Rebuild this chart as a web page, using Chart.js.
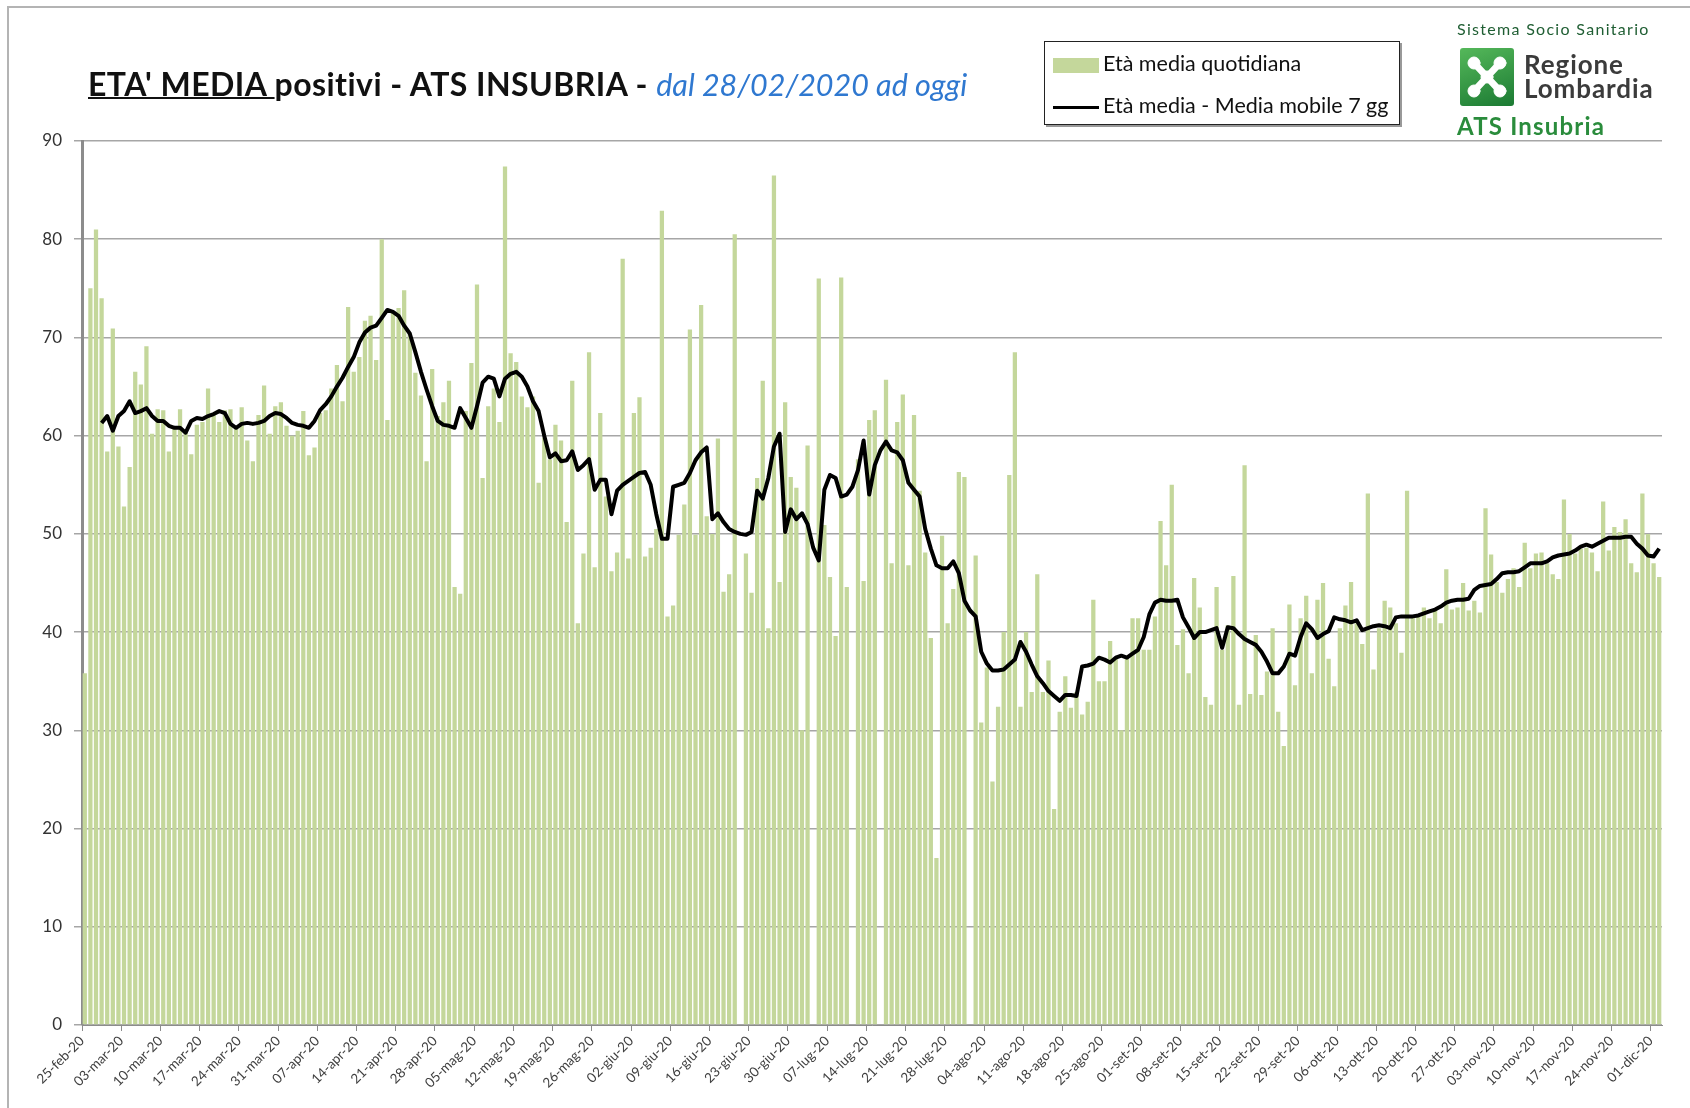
<!DOCTYPE html>
<html>
<head>
<meta charset="utf-8">
<script src="https://cdn.jsdelivr.net/npm/chart.js@4"></script>
<style>
  body { margin: 0; background: #fff; font-family: Lato, "Open Sans", sans-serif; }
  #page { position: relative; width: 1690px; height: 1108px; overflow: hidden; }
  #frame { position: absolute; left: 7px; top: 6px; width: 1700px; height: 1120px;
    border-top: 2px solid #b4b4b4; border-left: 2px solid #b4b4b4; }
  #chartBox { position: absolute; left: 0; top: 0; width: 1690px; height: 1108px; }
  #title { position: absolute; left: 88px; top: 65px; font-size: 32px; line-height: 38px; font-weight: bold; color: #111; white-space: nowrap; letter-spacing: 0.45px; }
  #title u { text-decoration-thickness: 2px; }
  #title .sub { font-weight: normal; font-style: italic; color: #2f78d0; font-size: 30.5px; letter-spacing: 0; }
  #legend { position: absolute; left: 1044px; top: 41px; width: 354px; height: 82px;
    border: 1.5px solid #222; box-shadow: 2px 2px 0 #999; background: #fff; }
  .lg { position: absolute; left: 8px; font-size: 21.5px; line-height: 26px; color: #111; white-space: nowrap; }
  .lg .sw { display: inline-block; vertical-align: middle; margin-right: 4px; }
  #logo .sss { position: absolute; left: 1457px; top: 19px; font-size: 16px; color: #1f5e33; letter-spacing: 1.3px; white-space: nowrap; }
  #logo .mark { position: absolute; left: 1460px; top: 48px; width: 54px; height: 58px; border-radius: 3px;
    background: linear-gradient(160deg, #55b85a, #1b7a33); }
  #logo .rl { position: absolute; left: 1524px; top: 52px; font-size: 26px; line-height: 24px; font-weight: bold; color: #3b3b3b; letter-spacing: 0.9px; }
  #logo .ats { position: absolute; left: 1457px; top: 111px; font-size: 24px; font-weight: bold; color: #2a8c3c; white-space: nowrap; letter-spacing: 1.2px; }
</style>
</head>
<body>
<div id="page">
  <div id="frame"></div>
  <div id="chartBox"><canvas id="ageChart"></canvas></div>
  <div id="title"><u>ETA' MEDIA </u>positivi - ATS INSUBRIA - <span class="sub">dal 28/02/2020 ad oggi</span></div>
  <div id="legend"></div>
  <div id="logo">
    <div class="sss">Sistema Socio Sanitario</div>
    <div class="mark">
      <svg width="54" height="58" viewBox="0 0 54 58">
        <g fill="#fff" stroke="#fff" stroke-linecap="round">
          <line x1="15" y1="16" x2="39" y2="42" stroke-width="7"/>
          <line x1="39" y1="16" x2="15" y2="42" stroke-width="7"/>
          <circle cx="14" cy="15" r="6"/>
          <circle cx="40" cy="15" r="6"/>
          <circle cx="14" cy="43" r="6"/>
          <circle cx="40" cy="43" r="6"/>
          <circle cx="27" cy="29" r="6"/>
        </g>
      </svg>
    </div>
    <div class="rl">Regione<br>Lombardia</div>
    <div class="ats">ATS Insubria</div>
  </div>
</div>
<script>
// daily bars start 25-feb-2020, one per day (282 days)
const startDate = new Date(2020, 1, 25);
const monthNames = ["gen", "feb", "mar", "apr", "mag", "giu", "lug", "ago", "set", "ott", "nov", "dic"];

// Età media quotidiana (one row = one week)
const dailyAge = [
  35.8, 75.0, 81.0, 74.0, 58.4, 70.9, 58.9,
  52.8, 56.8, 66.5, 65.2, 69.1, 60.2, 62.7,
  62.6, 58.4, 60.8, 62.7, 60.5, 58.1, 61.1,
  61.4, 64.8, 62.2, 61.4, 62.6, 62.7, 60.8,
  62.9, 59.5, 57.4, 62.1, 65.1, 60.2, 63.0,
  63.4, 61.0, 60.0, 60.5, 62.5, 58.0, 58.8,
  62.3, 62.6, 64.8, 67.2, 63.5, 73.1, 66.5,
  68.0, 71.7, 72.2, 67.7, 80.0, 61.6, 72.5,
  73.0, 74.8, 70.4, 66.4, 64.1, 57.4, 66.8,
  62.0, 63.4, 65.6, 44.6, 43.9, 62.5, 67.4,
  75.4, 55.7, 63.0, 64.8, 61.4, 87.4, 68.4,
  67.5, 64.0, 62.9, 64.0, 55.2, 59.8, 57.6,
  61.1, 59.5, 51.2, 65.6, 40.9, 48.0, 68.5,
  46.6, 62.3, 53.8, 46.2, 48.1, 78.0, 47.5,
  62.3, 63.9, 47.7, 48.6, 50.5, 82.9, 41.6,
  42.7, 49.9, 53.0, 70.8, 49.9, 73.3, 51.8,
  50.0, 59.7, 44.1, 45.9, 80.5, null, 48.0,
  44.0, 55.7, 65.6, 40.4, 86.5, 45.1, 63.4,
  55.8, 54.7, 30.0, 59.0, null, 76.0, 50.9,
  45.6, 39.6, 76.1, 44.6, null, 57.6, 45.2,
  61.6, 62.6, null, 65.7, 47.0, 61.4, 64.2,
  46.8, 62.1, 54.4, 48.1, 39.4, 17.0, 49.8,
  40.9, 44.4, 56.3, 55.8, null, 47.8, 30.8,
  36.4, 24.8, 32.4, 40.0, 56.0, 68.5, 32.4,
  40.0, 33.9, 45.9, 33.9, 37.1, 22.0, 31.9,
  35.5, 32.3, 33.9, 31.6, 32.9, 43.3, 35.0,
  35.0, 39.1, 37.4, 30.0, 37.4, 41.4, 41.4,
  38.2, 38.2, 41.6, 51.3, 46.8, 55.0, 38.7,
  40.3, 35.8, 45.5, 42.5, 33.4, 32.6, 44.6,
  38.2, 40.7, 45.7, 32.6, 57.0, 33.7, 39.7,
  33.6, 36.0, 40.4, 31.9, 28.4, 42.8, 34.6,
  41.4, 43.7, 35.8, 43.3, 45.0, 37.3, 34.5,
  40.4, 42.7, 45.1, 40.9, 38.8, 54.1, 36.2,
  40.4, 43.2, 42.5, 40.9, 37.9, 54.4, 41.6,
  41.6, 42.5, 41.4, 42.3, 40.9, 46.4, 42.3,
  42.5, 45.0, 42.2, 43.2, 42.0, 52.6, 47.9,
  45.1, 44.0, 45.4, 46.5, 44.6, 49.1, 46.5,
  48.0, 48.1, 47.0, 45.9, 45.4, 53.5, 50.0,
  48.0, 48.5, 48.6, 48.1, 46.2, 53.3, 48.3,
  50.7, 50.2, 51.5, 47.0, 46.1, 54.1, 50.0,
  47.0, 45.6
];

// Età media - Media mobile 7 gg
const movingAvg = [
  null, null, null, 61.3, 62.0, 60.5, 62.0,
  62.5, 63.5, 62.3, 62.5, 62.8, 62.0, 61.5,
  61.5, 61.0, 60.8, 60.8, 60.3, 61.5, 61.8,
  61.7, 62.0, 62.2, 62.5, 62.3, 61.2, 60.8,
  61.2, 61.3, 61.2, 61.3, 61.5, 62.0, 62.3,
  62.2, 61.8, 61.3, 61.1, 61.0, 60.8, 61.5,
  62.6, 63.2, 64.0, 65.0, 65.9, 67.0, 68.0,
  69.5, 70.5, 71.0, 71.2, 72.0, 72.8, 72.6,
  72.2, 71.2, 70.4, 68.5, 66.5, 64.7, 63.0,
  61.5, 61.1, 61.0, 60.8, 62.8, 61.8, 60.8,
  63.0, 65.4, 66.0, 65.8, 64.0, 65.8, 66.3,
  66.5, 66.0, 65.0, 63.5, 62.5, 60.0, 57.8,
  58.2, 57.4, 57.5, 58.4, 56.5, 57.0, 57.6,
  54.5, 55.5, 55.5, 52.0, 54.4, 55.0, 55.4,
  55.8, 56.2, 56.3, 55.0, 52.0, 49.5, 49.5,
  54.8, 55.0, 55.2, 56.2, 57.5, 58.3, 58.8,
  51.5, 52.1, 51.2, 50.5, 50.2, 50.0, 49.9,
  50.2, 54.4, 53.6, 55.7, 58.9, 60.2, 50.2,
  52.5, 51.5, 52.1, 51.0, 48.6, 47.3, 54.5,
  56.0, 55.7, 53.8, 54.0, 54.8, 56.5, 59.5,
  54.0, 57.0, 58.5, 59.4, 58.5, 58.3, 57.5,
  55.2, 54.5, 53.8, 50.5, 48.5, 46.8, 46.5,
  46.5, 47.2, 46.0, 43.2, 42.2, 41.6, 38.0,
  36.8, 36.1, 36.1, 36.2, 36.7, 37.2, 39.0,
  38.0, 36.7, 35.5, 34.8, 34.0, 33.5, 33.0,
  33.6, 33.6, 33.5, 36.5, 36.6, 36.8, 37.4,
  37.2, 36.9, 37.4, 37.6, 37.4, 37.8, 38.2,
  39.5, 41.8, 43.0, 43.3, 43.2, 43.2, 43.3,
  41.5, 40.5, 39.4, 40.0, 40.0, 40.2, 40.4,
  38.4, 40.5, 40.4, 39.8, 39.3, 39.0, 38.7,
  38.0, 37.0, 35.8, 35.8, 36.5, 37.8, 37.6,
  39.5, 40.9, 40.3, 39.4, 39.8, 40.1, 41.5,
  41.3, 41.2, 41.0, 41.2, 40.2, 40.4, 40.6,
  40.7, 40.6, 40.4, 41.5, 41.6, 41.6, 41.6,
  41.7, 41.9, 42.1, 42.3, 42.6, 43.0, 43.2,
  43.3, 43.3, 43.4, 44.3, 44.7, 44.8, 44.9,
  45.4, 46.0, 46.1, 46.1, 46.2, 46.6, 47.0,
  47.0, 47.0, 47.2, 47.6, 47.8, 47.9, 48.0,
  48.3, 48.7, 48.9, 48.7, 49.0, 49.3, 49.6,
  49.6, 49.6, 49.7, 49.7, 49.0, 48.5, 47.8,
  47.7, 48.5
];

const yTicks = [0, 10, 20, 30, 40, 50, 60, 70, 80, 90];

const dayLabels = [];
for (let i = 0; i < dailyAge.length; i++) {
  const d = new Date(startDate);
  d.setDate(d.getDate() + i);
  const dd = String(d.getDate()).padStart(2, "0");
  dayLabels.push(dd + "-" + monthNames[d.getMonth()] + "-20");
}

const barColor = "#c4d79b";
const seriesNames = ["Età media quotidiana", "Età media - Media mobile 7 gg"];

// html legend, same look as the original box
const legendBox = document.getElementById("legend");
legendBox.innerHTML = `
  <div class="lg" style="top:8px"><span class="sw" style="width:46px;height:15px;background:${barColor}"></span>${seriesNames[0]}</div>
  <div class="lg" style="top:50px"><span class="sw" style="width:46px;height:3px;background:#000"></span>${seriesNames[1]}</div>
`;

const ctx = document.getElementById("ageChart").getContext("2d");
const chart = new Chart(ctx, {
  type: "bar",
  data: {
    labels: dayLabels,
    datasets: [
      {
        type: "line",
        label: seriesNames[1],
        data: movingAvg,
        borderColor: "#000",
        borderWidth: 4,
        pointRadius: 0,
        tension: 0,
        borderJoinStyle: "round",
        order: 0,
      },
      {
        label: seriesNames[0],
        data: dailyAge,
        backgroundColor: barColor,
        barPercentage: 0.76,
        categoryPercentage: 1.0,
        order: 1,
      },
    ],
  },
  options: {
    responsive: true,
    maintainAspectRatio: false,
    animation: false,
    layout: { padding: { left: 0, right: 28, top: 141, bottom: 0 } },
    plugins: {
      legend: { display: false },
      title: { display: false },
      tooltip: { enabled: false },
    },
    scales: {
      x: {
        grid: {
          drawOnChartArea: false,
          tickLength: 6,
          color: (c) => (c.index % 7 === 0 ? "#8c8c8c" : "rgba(0,0,0,0)"),
        },
        border: { color: "#8c8c8c", width: 1 },
        ticks: {
          autoSkip: false,
          minRotation: 45,
          maxRotation: 45,
          labelOffset: -2.8,
          padding: 2,
          color: "#404040",
          font: { family: "Lato", size: 13.5 },
          callback: (v, i) => (i % 7 === 0 ? dayLabels[i] : ""),
        },
        afterFit: (scale) => { scale.height = 83; },
      },
      y: {
        min: yTicks[0],
        max: yTicks[yTicks.length - 1],
        afterBuildTicks: (scale) => { scale.ticks = yTicks.map((v) => ({ value: v })); },
        grid: { color: "#a6a6a6", lineWidth: 1.5, tickLength: 8 },
        border: { color: "#8c8c8c", width: 3 },
        ticks: {
          padding: 12,
          color: "#333",
          font: { family: "Lato", size: 17 },
        },
        afterFit: (scale) => { scale.width = 82; },
      },
    },
  },
});
</script>
</body>
</html>
